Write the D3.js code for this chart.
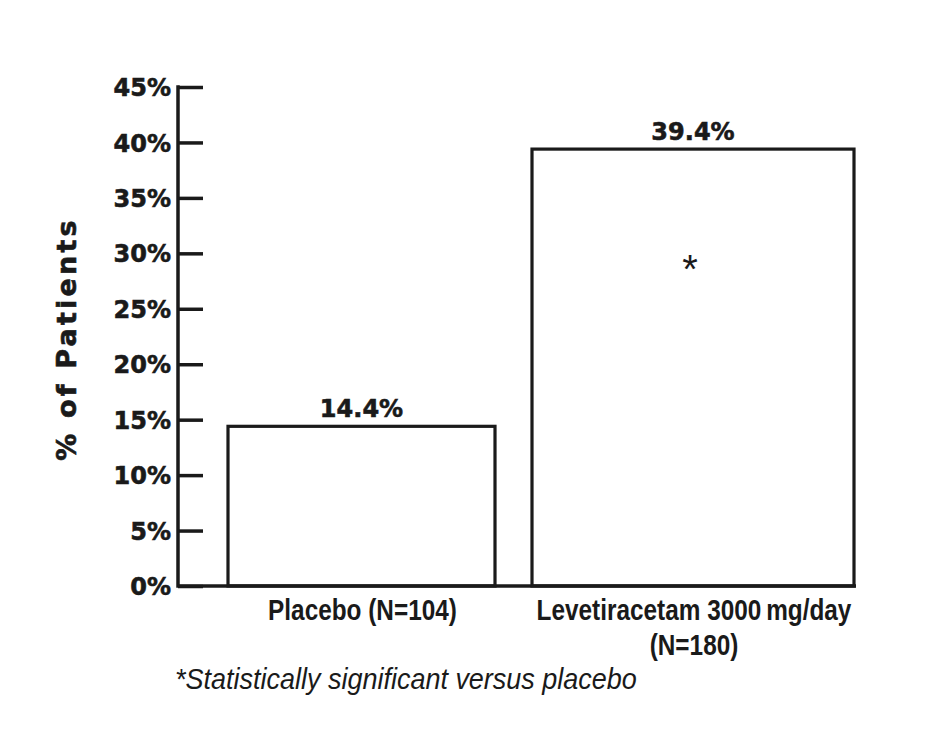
<!DOCTYPE html>
<html>
<head>
<meta charset="utf-8">
<script src="https://cdn.jsdelivr.net/npm/d3@7"></script>
<style>
  body { margin: 0; background: #fff; }
</style>
</head>
<body>
<div id="chart"></div>
<script>
// data
let categories = ['Placebo (N=104)', 'Levetiracetam 3000\u2009mg/day|(N=180)']
let values = [14.4, 39.4]
let valueLabels = ['14.4%', '39.4%']
let significant = [false, true]
let yTicks = [0, 5, 10, 15, 20, 25, 30, 35, 40, 45]
let footnote = '*Statistically significant versus placebo'

let initChart = () => {
  let width = 944
  let height = 748
  let ink = '#1a1a1a'
  // layout
  let axisX = 178
  let baseY = 586
  let topY = 87
  let axisEnd = 856
  let barStart = 228
  let barGap = 37
  let barWidths = [267, 322]
  let narrow = 0.84

  let svg = d3.select('#chart')
    .append('svg')
    .attr('width', width)
    .attr('height', height)

  svg.append('rect')
    .attr('width', width)
    .attr('height', height)
    .attr('fill', '#ffffff')

  let y = d3.scaleLinear().domain([0, 45]).range([baseY, topY])

  // bar left edges from widths
  let lefts = []
  let acc = barStart
  barWidths.forEach(function (w) {
    lefts.push(acc)
    acc += w + barGap
  })
  let xLeft = d3.scaleOrdinal().domain(categories).range(lefts)
  let xWidth = d3.scaleOrdinal().domain(categories).range(barWidths)
  let xMid = function (c) { return xLeft(c) + xWidth(c) / 2 }

  let data = categories.map(function (c, i) {
    return { cat: c, value: values[i], label: valueLabels[i], sig: significant[i] }
  })

  // heavy bold text helper
  let heavy = function (sel, size) {
    sel.attr('font-family', 'DejaVu Sans')
      .attr('font-weight', 'bold')
      .attr('font-size', size)
      .attr('fill', ink)
      .attr('stroke', ink)
      .attr('stroke-width', 0.6)
  }

  // bars
  let bars = svg.append('g').attr('class', 'bars')
  bars.selectAll('rect')
    .data(data)
    .enter()
    .append('rect')
    .attr('x', function (d) { return xLeft(d.cat) })
    .attr('y', function (d) { return y(d.value) })
    .attr('width', function (d) { return xWidth(d.cat) })
    .attr('height', function (d) { return baseY - y(d.value) })
    .attr('fill', '#fff')
    .attr('stroke', ink)
    .attr('stroke-width', 3.2)

  // value labels
  bars.selectAll('text.value')
    .data(data)
    .enter()
    .append('text')
    .attr('class', 'value')
    .attr('x', function (d) { return xMid(d.cat) })
    .attr('y', function (d) { return y(d.value) - 9 })
    .attr('text-anchor', 'middle')
    .call(heavy, 24)
    .text(function (d) { return d.label })

  // asterisk
  bars.selectAll('text.sig')
    .data(data.filter(function (d) { return d.sig }))
    .enter()
    .append('text')
    .attr('class', 'sig')
    .attr('x', function (d) { return xMid(d.cat) - 3 })
    .attr('y', y(27.3))
    .attr('text-anchor', 'middle')
    .attr('font-family', 'Liberation Sans')
    .attr('font-size', 40)
    .attr('fill', ink)
    .text('*')

  // y axis
  let yAxis = d3.axisRight(y)
    .tickValues(yTicks)
    .tickSize(25)
    .tickPadding(0)
    .tickFormat(function (d) { return d + '%' })

  let gy = svg.append('g')
    .attr('transform', 'translate(' + axisX + ',0)')
    .call(yAxis)
  gy.select('.domain').remove()
  gy.selectAll('.tick line')
    .attr('stroke', ink)
    .attr('stroke-width', 3.5)
  gy.selectAll('.tick text')
    .attr('x', -7)
    .attr('dy', '0.36em')
    .attr('text-anchor', 'end')
    .call(heavy, 24)

  // axis lines
  svg.append('line')
    .attr('x1', axisX).attr('x2', axisX)
    .attr('y1', y(45) - 1.75).attr('y2', baseY + 1.75)
    .attr('stroke', ink)
    .attr('stroke-width', 3.5)
  svg.append('line')
    .attr('x1', axisX).attr('x2', axisEnd)
    .attr('y1', baseY).attr('y2', baseY)
    .attr('stroke', ink)
    .attr('stroke-width', 3.5)

  // y title
  svg.append('text')
    .attr('transform', 'translate(76,' + 339 + ') rotate(-90)')
    .attr('text-anchor', 'middle')
    .call(heavy, 27)
    .attr('letter-spacing', 3.2)
    .text('% of Patients')

  // category labels (condensed)
  let catG = svg.append('g')
  data.forEach(function (d) {
    let lines = d.cat.split('|')
    lines.forEach(function (l, i) {
      catG.append('text')
        .attr('transform', 'translate(' + (xMid(d.cat) + 1) + ',' + (620 + i * 35) + ') scale(' + narrow + ',1)')
        .attr('text-anchor', 'middle')
        .attr('font-family', 'Liberation Sans')
        .attr('font-weight', 'bold')
        .attr('font-size', 29)
        .attr('fill', ink)
        .text(l)
    })
  })

  // footnote
  svg.append('text')
    .attr('transform', 'translate(175,689) scale(0.9,1)')
    .attr('font-family', 'Liberation Sans')
    .attr('font-style', 'italic')
    .attr('font-size', 30)
    .attr('fill', ink)
    .text(footnote)
}

initChart()
</script>
</body>
</html>
